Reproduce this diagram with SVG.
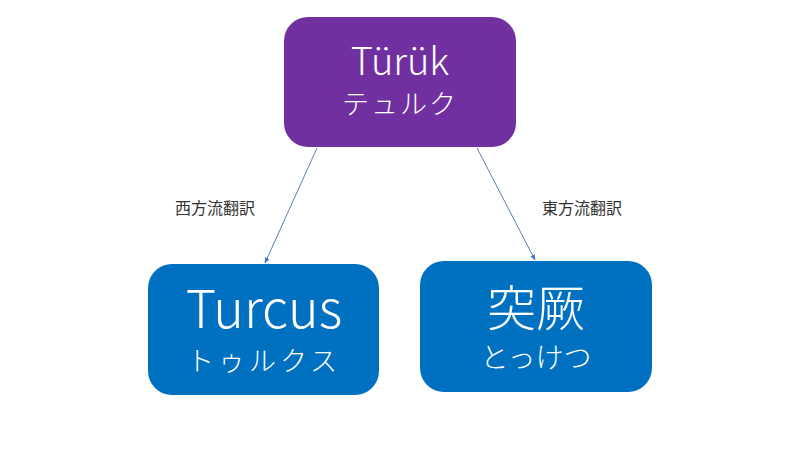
<svg xmlns="http://www.w3.org/2000/svg" width="800" height="450" viewBox="0 0 800 450">
<defs>
<marker id="ah" viewBox="0 0 10 10" refX="9" refY="5" markerWidth="6" markerHeight="6" orient="auto">
<path d="M0,1 L10,5 L0,9 z" fill="#4472C4"/>
</marker>
<style>
.node-purple{fill:#7030A0}
.node-blue{fill:#0070C0}
.t{fill:#fff;font-family:"Noto Sans CJK JP","Noto Sans",sans-serif;font-weight:300;text-anchor:middle}
.lbl{fill:#333;font-family:"Noto Sans CJK JP",sans-serif;font-size:16px}
.conn{stroke:#5B7DB5;stroke-width:1;fill:none}
</style>
</defs>
<rect width="800" height="450" fill="#fff"/>
<g id="connectors">
<line class="conn" x1="317" y1="148" x2="265" y2="263" marker-end="url(#ah)"/>
<line class="conn" x1="477" y1="148" x2="535" y2="260" marker-end="url(#ah)"/>
<text class="lbl" x="175" y="214">西方流翻訳</text>
<text class="lbl" x="542" y="214">東方流翻訳</text>
</g>
<g id="node-turuk">
<rect class="node-purple" x="284" y="17" width="232" height="130" rx="24"/>
<text class="t" x="400" y="75" font-size="38">Türük</text>
<text class="t" x="400" y="114" font-size="27" letter-spacing="2">テュルク</text>
</g>
<g id="node-turcus">
<rect class="node-blue" x="148" y="264" width="231" height="131" rx="24"/>
<text class="t" x="264" y="328" font-size="52">Turcus</text>
<text class="t" x="264" y="371" font-size="27" letter-spacing="4">トゥルクス</text>
</g>
<g id="node-tokketsu">
<rect class="node-blue" x="420" y="261" width="232" height="131" rx="24"/>
<text class="t" x="536" y="326" font-size="49">突厥</text>
<text class="t" x="536" y="368" font-size="28">とっけつ</text>
</g>
</svg>
